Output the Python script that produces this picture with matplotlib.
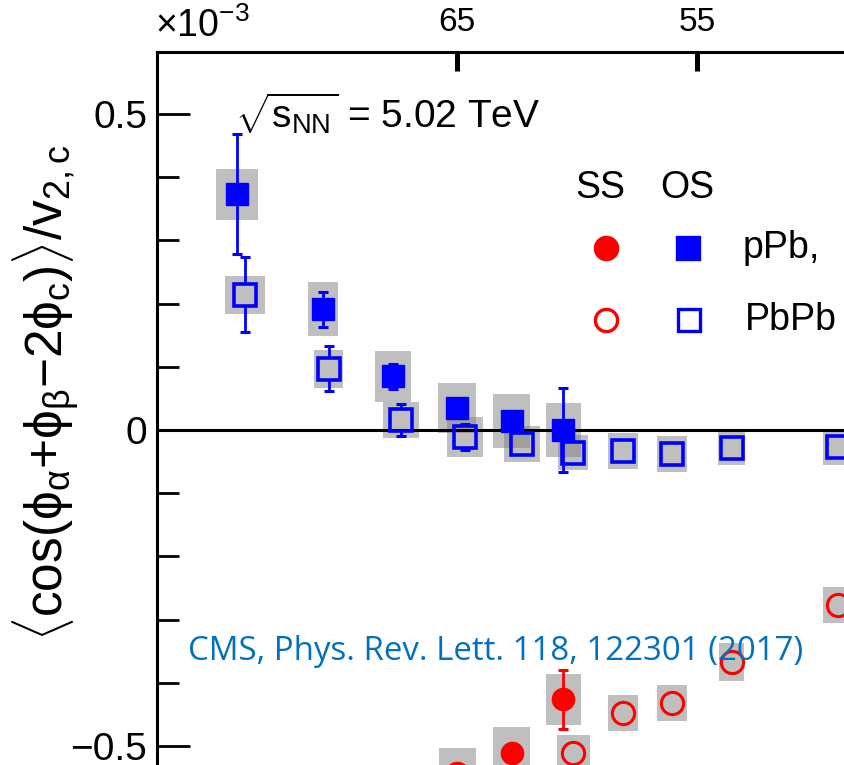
import matplotlib
matplotlib.use('Agg')
import matplotlib.pyplot as plt
from matplotlib.patches import Rectangle
from matplotlib.lines import Line2D
from matplotlib.ticker import MultipleLocator, FixedLocator

plt.rcParams.update({
    'font.family': ['Liberation Sans', 'DejaVu Sans'],
    'mathtext.fontset': 'custom',
    'mathtext.rm': 'Liberation Sans',
    'mathtext.it': 'Liberation Sans',
    'mathtext.sf': 'Liberation Sans',
    'mathtext.bf': 'Liberation Sans:bold',
})

# x: PbPb centrality (%), y: correlator in units of 1e-3
# OS = opposite sign, SS = same sign; stat = error bar, sys = grey box half height, bw = box width
ppb_os_x = [74.15, 70.57, 67.68, 64.99, 62.72, 60.57]
ppb_os_y = [0.373, 0.191, 0.085, 0.035, 0.014, 0.000]
ppb_os_stat = [0.095, 0.028, 0.020, 0.010, 0.010, 0.066]
ppb_os_sys = [0.040, 0.043, 0.040, 0.040, 0.043, 0.043]
ppb_os_bw = [1.75, 1.25, 1.50, 1.58, 1.54, 1.46]

pbpb_os_x = [73.82, 70.35, 67.35, 64.67, 62.28, 60.15, 58.10, 56.05, 53.55, 49.12]
pbpb_os_y = [0.214, 0.097, 0.016, -0.011, -0.022, -0.036, -0.033, -0.038, -0.028, -0.027]
pbpb_os_stat = [0.059, 0.036, 0.025, 0.021, 0.010, 0.010, 0.008, 0.008, 0.008, 0.008]
pbpb_os_sys = [0.030, 0.030, 0.029, 0.031, 0.028, 0.028, 0.028, 0.028, 0.027, 0.028]
pbpb_os_bw = [1.67, 1.21, 1.50, 1.50, 1.50, 1.25, 1.25, 1.25, 1.12, 1.25]

ppb_ss_x = [64.99, 62.72, 60.57]
ppb_ss_y = [-0.543, -0.511, -0.426]
ppb_ss_stat = [0.010, 0.010, 0.047]
ppb_ss_sys = [0.040, 0.041, 0.040]
ppb_ss_bw = [1.54, 1.54, 1.46]

pbpb_ss_x = [60.15, 58.10, 56.05, 53.55, 49.12]
pbpb_ss_y = [-0.511, -0.448, -0.432, -0.367, -0.277]
pbpb_ss_stat = [0.008, 0.008, 0.008, 0.008, 0.008]
pbpb_ss_sys = [0.028, 0.028, 0.028, 0.030, 0.028]
pbpb_ss_bw = [1.37, 1.25, 1.25, 1.04, 1.25]

W, H = 845, 765
MS = 16  # marker size in points


def fx(px):
    return px / W


def fy(py):
    return 1 - py / H


fig = plt.figure(figsize=(W / 100, H / 100), dpi=100)
ax = fig.add_axes([fx(157), 0, 1 - fx(157), fy(52)])

ax.set_xlim(77.5, 48.83)
ax.set_ylim(-0.530, 0.598)


def sys_boxes(xs, ys, sys, bw):
    for x, y, s, w in zip(xs, ys, sys, bw):
        ax.add_patch(Rectangle((x - w / 2, y - s), w, 2 * s, facecolor=(0.5, 0.5, 0.5),
                               alpha=0.5, lw=0, zorder=2))


def stat_bars(xs, ys, errs, color):
    # bars start at the marker edge, nothing is drawn inside the marker
    y0 = ax.transData.transform((0, 0))[1]
    y1 = ax.transData.transform((0, 1))[1]
    half = MS / 2 * fig.dpi / 72 / (y1 - y0)
    for x, y, e in zip(xs, ys, errs):
        if e <= half:
            continue
        ax.vlines([x, x], [y + half, y - e], [y + e, y - half], color=color, lw=2, zorder=3)
        ax.plot([x, x], [y + e, y - e], ls='none', marker='_', ms=7.5, mew=2.2,
                color=color, zorder=3)


for xs, ys, sys, bw in [(ppb_os_x, ppb_os_y, ppb_os_sys, ppb_os_bw),
                        (pbpb_os_x, pbpb_os_y, pbpb_os_sys, pbpb_os_bw),
                        (ppb_ss_x, ppb_ss_y, ppb_ss_sys, ppb_ss_bw),
                        (pbpb_ss_x, pbpb_ss_y, pbpb_ss_sys, pbpb_ss_bw)]:
    sys_boxes(xs, ys, sys, bw)

ax.axhline(0, color='black', lw=2.2, zorder=2.5)

stat_bars(ppb_os_x, ppb_os_y, ppb_os_stat, '#0000ff')
stat_bars(ppb_ss_x, ppb_ss_y, ppb_ss_stat, '#ff0000')
stat_bars(pbpb_os_x, pbpb_os_y, pbpb_os_stat, '#0000ff')
stat_bars(pbpb_ss_x, pbpb_ss_y, pbpb_ss_stat, '#ff0000')

ax.plot(ppb_os_x, ppb_os_y, 's', ms=MS, color='#0000ff', zorder=3.5)
ax.plot(ppb_ss_x, ppb_ss_y, 'o', ms=MS, color='#ff0000', zorder=3.5)
ax.plot(pbpb_os_x, pbpb_os_y, 's', ms=MS, color='#0000ff', mfc='none', mew=2.6, zorder=3.5)
ax.plot(pbpb_ss_x, pbpb_ss_y, 'o', ms=MS, color='#ff0000', mfc='none', mew=2.2, zorder=3.5)

# axes frame: only left and top are inside the figure
ax.spines['right'].set_visible(False)
ax.spines['bottom'].set_visible(False)
ax.spines['left'].set_linewidth(2.2)
ax.spines['top'].set_linewidth(2.2)

ax.xaxis.tick_top()
ax.xaxis.set_major_locator(FixedLocator([65, 55]))
ax.tick_params(axis='x', which='major', direction='in', length=14, width=3.6,
               labelsize=24, pad=10)
ax.yaxis.set_major_locator(FixedLocator([-0.5, 0, 0.5]))
ax.yaxis.set_minor_locator(MultipleLocator(0.1))
ax.set_yticklabels(['\u22120.5', '0', '0.5'])
ax.tick_params(axis='y', which='major', direction='in', length=24, width=2,
               labelsize=28, pad=7)
ax.tick_params(axis='y', which='minor', direction='in', length=16, width=2)

fig.text(fx(155), fy(37), r'$\times$10$^{-3}$', fontsize=27, va='baseline', ha='left')
fig.text(fx(46), fy(393),
         r'$\langle\mathrm{cos}(\phi_{\alpha}{+}\phi_{\beta}{-}2\phi_{c})\rangle/v_{2,c}$',
         rotation=90, fontsize=37, ha='center', va='center')
fig.text(fx(235), fy(128), r'$\sqrt{s_{\mathrm{NN}}}$ = 5.02 TeV', fontsize=28,
         va='baseline', ha='left')

# legend
fig.text(fx(575), fy(198), 'SS', fontsize=27, va='baseline', ha='left')
fig.text(fx(660), fy(198), 'OS', fontsize=27, va='baseline', ha='left')
for px, py, mk, col, fill in [(606, 248, 'o', '#ff0000', True), (688, 248, 's', '#0000ff', True),
                              (606, 320, 'o', '#ff0000', False), (689, 320, 's', '#0000ff', False)]:
    fig.add_artist(Line2D([fx(px)], [fy(py)], transform=fig.transFigure, marker=mk, ms=MS,
                          color=col, mfc=col if fill else 'none', mew=2.4, ls='none'))
fig.text(fx(743), fy(248), 'pPb,', fontsize=27, va='center', ha='left')
fig.text(fx(745), fy(320), 'PbPb', fontsize=27, va='center', ha='left')

fig.text(fx(188), fy(660), 'CMS, Phys. Rev. Lett. 118, 122301 (2017)', fontsize=23.8,
         family='Open Sans', color='#0070c0', va='baseline', ha='left', zorder=10)

fig.savefig('out.png', dpi=100)
